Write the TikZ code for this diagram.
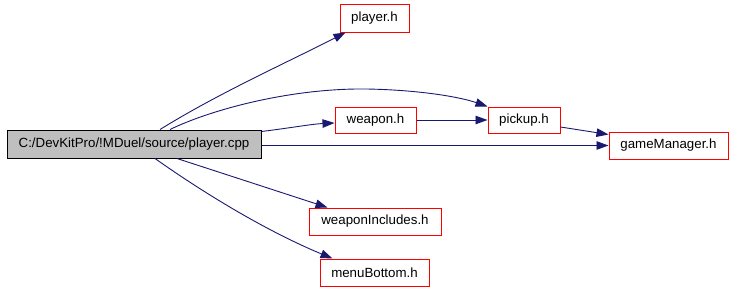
\documentclass[tikz,border=0pt]{standalone}
\usepackage{fontspec}
\setmainfont{Liberation Sans}
\usetikzlibrary{arrows.meta}
\definecolor{edgeblue}{RGB}{25,25,112}
\definecolor{boxgray}{RGB}{191,191,191}
\begin{document}
\begin{tikzpicture}[x=1pt,y=1pt,
  file/.style={draw=red, line width=1pt, inner sep=0pt, font=\fontsize{13.3}{16}\selectfont},
  rootfile/.style={draw=black, fill=boxgray, line width=1pt, inner sep=0pt, font=\fontsize{13.3}{16}\selectfont},
  dep/.style={draw=edgeblue, line width=0.9pt, -{Triangle[length=12pt,width=8.5pt]}, fill=none}]
\useasboundingbox (0,0) rectangle (733,290);

% include graph nodes
\node[rootfile, minimum width=254pt, minimum height=28pt] (main) at (134,146) {C:/DevKitPro/!MDuel/source/player.cpp};
\node[file, minimum width=69pt, minimum height=27pt] (player) at (374.5,271.5) {player.h};
\node[file, minimum width=81pt, minimum height=26pt] (weapon) at (375.5,170) {weapon.h};
\node[file, minimum width=72pt, minimum height=26pt] (pickup) at (524,170) {pickup.h};
\node[file, minimum width=119pt, minimum height=27pt] (gm) at (668.5,144.5) {gameManager.h};
\node[file, minimum width=132pt, minimum height=27pt] (wi) at (375,68.5) {weaponIncludes.h};
\node[file, minimum width=109pt, minimum height=27pt] (mb) at (374.5,17.5) {menuBottom.h};

% include edges
\draw[dep] ([xshift=26pt]main.north) .. controls (219,197) and (284,226) .. ([xshift=6pt]player.south west);
\draw[dep] ([xshift=36pt]main.north) .. controls (210,180) and (290,202) .. (367,201)
  .. controls (420,200) and (460,193) .. (pickup.north west);
\draw[dep] ([yshift=-2pt]main.north east) .. controls (290,162) and (312,166) .. ([yshift=-3pt]weapon.west);
\draw[dep] (weapon.east) -- (pickup.west);
\draw[dep] ([yshift=-7pt]pickup.east) -- ([yshift=-3pt]gm.north west);
\draw[dep] (main.east |- gm.west) -- (gm.west);
\draw[dep] ([xshift=43pt]main.south) -- ([xshift=19pt]wi.north west);
\draw[dep] ([xshift=21pt]main.south) .. controls (211,92) and (271,57) .. ([xshift=13pt]mb.north west);
\end{tikzpicture}
\end{document}
